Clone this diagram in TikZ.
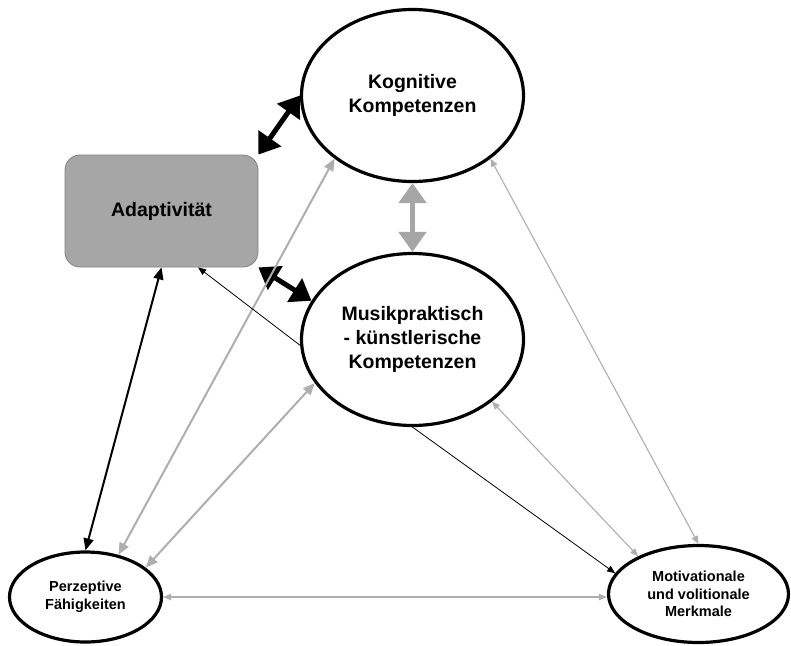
\documentclass[tikz,border=0pt]{standalone}
\usepackage{fontspec}
\setmainfont{Liberation Sans}
\usetikzlibrary{shapes.geometric,arrows.meta}
\definecolor{boxgray}{HTML}{A6A6A6}
\definecolor{linegray}{HTML}{AEAEAE}

\begin{document}
\begin{tikzpicture}[x=1pt,y=-1pt,line cap=round,line join=round,
    big/.style={ellipse,draw,line width=3.2pt,inner sep=0pt,align=center,
      font=\fontsize{19.5}{24}\selectfont\bfseries},
    small/.style={ellipse,draw,line width=3.2pt,inner sep=0pt,align=center,
      font=\fontsize{14.5}{17.5}\selectfont\bfseries},
    thickarr/.style={line width=5pt,
      {Triangle[length=20pt,width=27pt]}-{Triangle[length=20pt,width=27pt]}},
    midarr/.style={line width=2pt,
      {Triangle[length=12pt,width=10pt]}-{Triangle[length=12pt,width=10pt]}},
    grayarr/.style={linegray,line width=2pt,
      {Triangle[length=12pt,width=10pt]}-{Triangle[length=12pt,width=10pt]}},
    thinarr/.style={linegray,line width=1.1pt,
      {Triangle[length=8pt,width=6.5pt]}-{Triangle[length=8pt,width=6.5pt]}},
    onearr/.style={black,line width=0.8pt,-{Triangle[length=8pt,width=6.5pt]}}]
  \useasboundingbox (0,0) rectangle (791,645);
  \node[big,minimum width=222pt,minimum height=172pt] (kog) at (412.5,95.5)
    {Kognitive\\Kompetenzen};
  \node[big,minimum width=222pt,minimum height=172pt] (musik) at (412.5,339.5)
    {Musikpraktisch\\- künstlerische\\Kompetenzen};
  \node[small,minimum width=152pt,minimum height=90pt] (perz) at (85.5,597)
    {Perzeptive\\Fähigkeiten};
  \node[small,minimum width=180pt,minimum height=97pt] (motiv) at (698.5,594)
    {Motivationale\\und volitionale\\Merkmale};
  \node[draw=black!50,fill=boxgray,line width=0.8pt,rounded corners=15pt,
    minimum width=193pt,minimum height=112pt,
    font=\fontsize{19.5}{24}\selectfont\bfseries] (adapt) at (161.5,211)
    {Adaptivität};
  % thick links
  \draw[thickarr] (adapt.north east) -- (kog.180);
  \draw[thickarr] (adapt.south east) -- (musik.159);
  \draw[thickarr,boxgray] (kog.south) -- (musik.north);
  \draw[midarr] (perz.north) -- (adapt.south);
  % gray links
  \draw[grayarr] (perz.52) -- (kog.219);
  \draw[grayarr] (perz.26) -- (musik.204);
  \draw[thinarr] (perz.east) -- (perz.east -| motiv.west);
  \draw[thinarr] (musik.-38) -- (motiv.148);
  \draw[thinarr] (kog.-39) -- (motiv.north);
  % one-way links
  \draw[onearr] (musik.183) -- (adapt.-57);
  \draw[onearr] (musik.south) -- (motiv.166);
\end{tikzpicture}
\end{document}
